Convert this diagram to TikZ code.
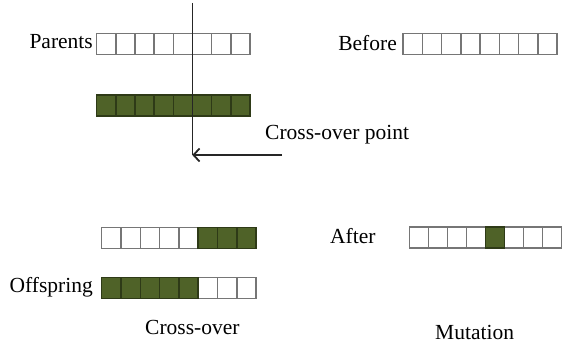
\documentclass[tikz,border=0pt]{standalone}
\usepackage{fontspec}
\setmainfont{Liberation Serif}
\usetikzlibrary{arrows.meta}
\definecolor{olive}{HTML}{4F6228}
\definecolor{olivedark}{HTML}{2E3A17}
\definecolor{cellgray}{HTML}{767676}
\tikzset{
  wcell/.style={fill=white, minimum height=21pt, inner sep=0pt, outer sep=0pt},
  gcell/.style={fill=olive, minimum height=21pt, inner sep=0pt, outer sep=0pt},
  wedge/.style={draw=cellgray, line width=1.5pt},
  gedge/.style={draw=olivedark, line width=1.5pt},
  lbl/.style={inner sep=0pt, font=\fontsize{21.5}{24}\selectfont},
}
% #1 name prefix, #2 x0, #3 y center, #4 cell width, #5 list of green indices
\newcommand{\chromrow}[5]{%
  \foreach \i in {1,...,8}{%
    \gdef\st{wcell}%
    \foreach \g in {#5}{\ifnum\g=\i\gdef\st{gcell}\fi}%
    \node[\st, minimum width=#4pt] (#1\i) at ({#2+(\i-0.5)*#4},{#3}) {};%
  }%
  \foreach \i in {1,...,8}{%
    \gdef\isg{0}%
    \foreach \g in {#5}{\ifnum\g=\i\gdef\isg{1}\fi}%
    \ifnum\isg=0 \draw[wedge] (#1\i.south west) rectangle (#1\i.north east);\fi
  }%
  \foreach \i in {1,...,8}{%
    \gdef\isg{0}%
    \foreach \g in {#5}{\ifnum\g=\i\gdef\isg{1}\fi}%
    \ifnum\isg=1 \draw[gedge] (#1\i.south west) rectangle (#1\i.north east);\fi
  }%
}
\begin{document}
\begin{tikzpicture}[x=1pt,y=-1pt]
\useasboundingbox (0,0) rectangle (562,345);
% Crossover parents
\chromrow{pa}{96.7}{44}{19.16}{0}
\chromrow{pb}{96.7}{105.3}{19.16}{1,2,3,4,5,6,7,8}
% Mutation before
\chromrow{bf}{403}{44}{19.25}{0}
% Offspring
\chromrow{oa}{101.7}{237.8}{19.3}{6,7,8}
\chromrow{ob}{101.7}{287.8}{19.3}{1,2,3,4,5}
% Mutation after
\chromrow{af}{409.3}{237.5}{19.0}{5}
% cross-over line and arrow
\coordinate (vtop) at (192.3,3);
\coordinate (vbot) at (192.3,155);
\coordinate (astart) at (282,155);
\draw[line width=1pt, black!85] (vtop) -- (vbot);
\draw[line width=1.8pt, black!85, -{Straight Barb[length=6pt,width=13pt,line width=1.8pt]}] (astart) -- (vbot);
% labels
\node[lbl, anchor=base east] (parents) at (93,48.8) {Parents};
\node[lbl, anchor=base east] (before) at (397,50.5) {Before};
\node[lbl, anchor=base west] (cop) at (265,139) {Cross-over point};
\node[lbl, anchor=base east] (offs) at (93,292) {Offspring};
\node[lbl, anchor=base west] (co) at (145,334.5) {Cross-over};
\node[lbl, anchor=base west] (after) at (330,243.5) {After};
\node[lbl, anchor=base west] (mut) at (435,339.5) {Mutation};
\end{tikzpicture}
\end{document}
